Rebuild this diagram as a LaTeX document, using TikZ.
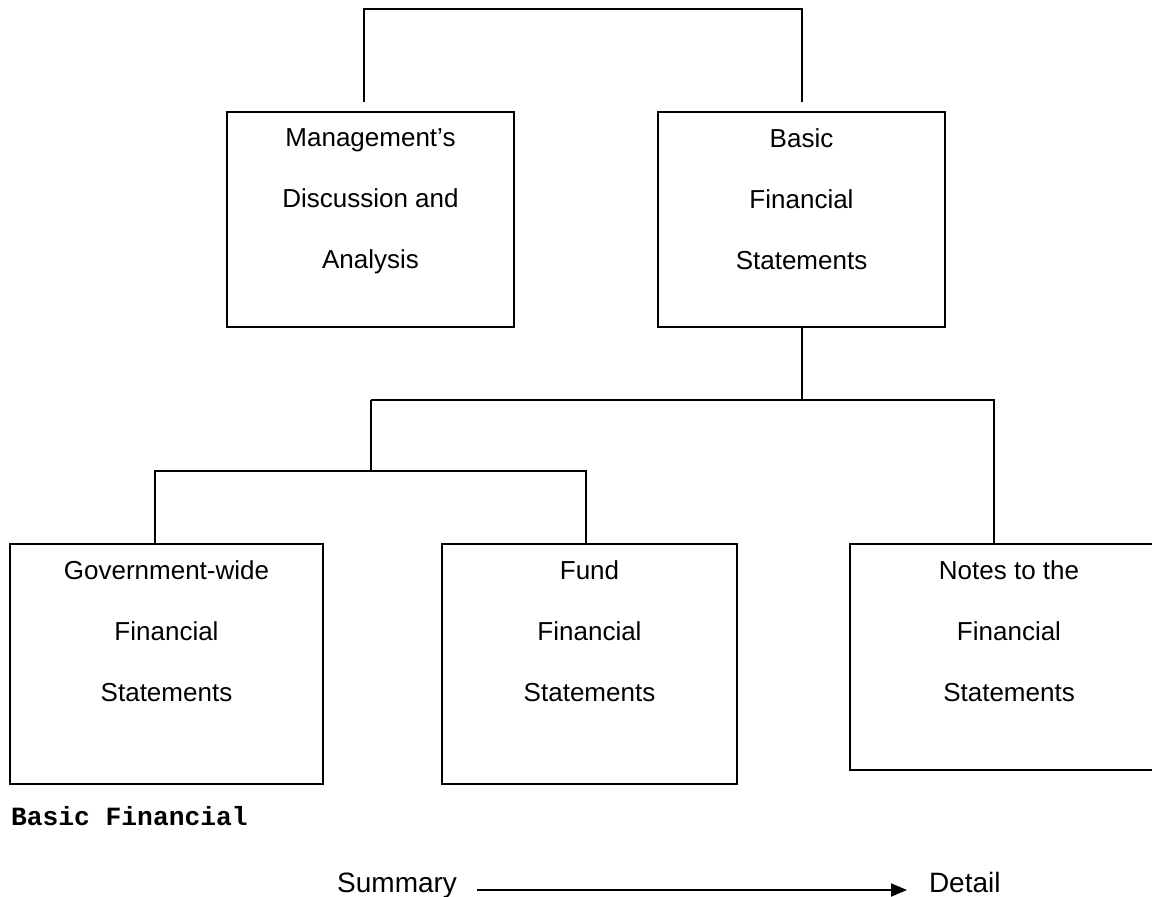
\documentclass[tikz,border=0pt]{standalone}
\usepackage{fontspec}
\setmainfont{Liberation Sans}
\newfontfamily\labelmono{Liberation Mono}
\usepackage{tikz}
\usetikzlibrary{positioning}
\usetikzlibrary{arrows.meta}

\begin{document}
\begin{tikzpicture}[x=1pt, y=-1pt, line width=2pt,
        box/.style={draw, rectangle, inner sep=0pt},
        boxtext/.style={align=center, inner sep=0pt, font=\fontsize{26}{61}\selectfont}]
        \clip (0,0) rectangle (1152,897);

        % Top row
        \node[box, minimum width=287pt, minimum height=215pt] (mda) at (370.5,219.5) {};
        \node[boxtext, below=17pt of mda.north] (mdatxt) {Management’s\\Discussion and\\Analysis};
        \node[box, minimum width=287pt, minimum height=215pt] (bfs) at (801.5,219.5) {};
        \node[boxtext, below=17pt of bfs.north] (bfstxt) {Basic\\Financial\\Statements};

        % Bottom row
        \node[box, minimum width=313pt, minimum height=240pt] (gov) at (166.5,664) {};
        \node[boxtext, below=17pt of gov.north] (govtxt) {Government-wide\\Financial\\Statements};
        \node[box, minimum width=295pt, minimum height=240pt] (fund) at (589.5,664) {};
        \node[boxtext, below=17pt of fund.north] (fundtxt) {Fund\\Financial\\Statements};
        \node[box, minimum width=318pt, minimum height=226pt] (notes) at (1009,657) {};
        \node[boxtext, below=17pt of notes.north] (notestxt) {Notes to the\\Financial\\Statements};

        % Connectors
        \coordinate (topbar) at (582,9);
        \coordinate (bar1) at (371,400);
        \coordinate (bar2) at (371,471);
        \draw[shorten <=9pt, shorten >=9pt] ([xshift=-6.5pt]mda.north) |- (topbar) -| (bfs.north);
        \draw (bfs.south) -- (bfs.south |- bar1);
        \draw (bar1) -| ([xshift=-15pt]notes.north);
        \draw (bar1) -- (bar2);
        \draw ([xshift=-11.5pt]gov.north) |- (bar2) -| ([xshift=-3.5pt]fund.north);

        % Caption and scale
        \node[anchor=base west, inner sep=0pt, font=\labelmono\bfseries\fontsize{26.3}{30}\selectfont] (cap) at (10,825) {Basic Financial};
        \node[anchor=base east, inner sep=0pt, font=\fontsize{28}{32}\selectfont] (summ) at (458,892) {Summary};
        \node[anchor=base west, inner sep=0pt, font=\fontsize{28}{32}\selectfont] (det) at (928,892) {Detail};
        \draw[-{Triangle[length=16pt, width=13pt]}] ([xshift=19pt, yshift=2pt]summ.base east) -- ([xshift=-21pt, yshift=2pt]det.base west);

    \end{tikzpicture}
\end{document}
